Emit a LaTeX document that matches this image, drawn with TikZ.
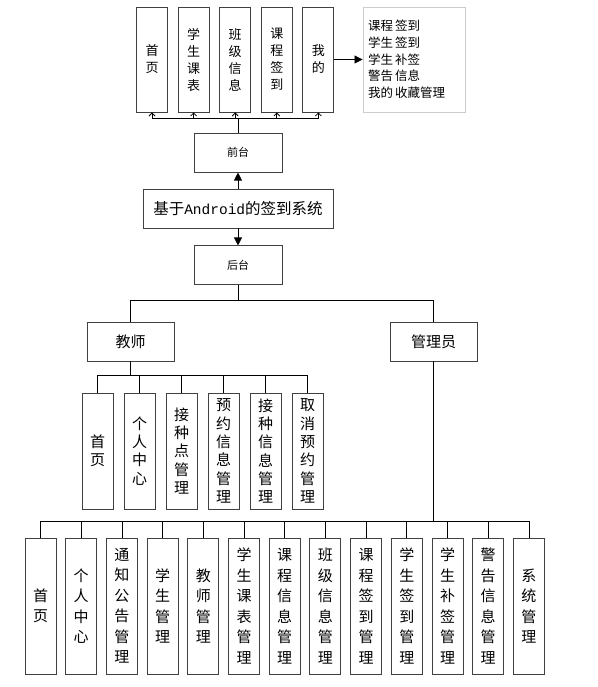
\documentclass[tikz,border=0pt]{standalone}
\usepackage{fontspec}
\newfontfamily\cjk{Noto Sans CJK SC}
\newfontfamily\latinmono{Liberation Mono}
\usetikzlibrary{arrows.meta}
\usetikzlibrary{positioning}
\usetikzlibrary{calc}

\begin{document}
\begin{tikzpicture}
  [x=1pt, y=-1pt,
   every node/.style = {draw=black!75, line width=0.9pt, fill=white, inner sep=0pt, align=center},
   topbox/.style   = {minimum width=31pt, minimum height=105pt, font=\cjk\fontsize{13}{17}\selectfont},
   stagebox/.style = {minimum width=88pt, minimum height=39pt, font=\cjk\fontsize{11}{13}\selectfont},
   rolebox/.style  = {minimum width=87pt, minimum height=39pt, font=\cjk\fontsize{15}{18}\selectfont},
   teachbox/.style = {minimum width=31pt, minimum height=116pt, font=\cjk\fontsize{15}{18.3}\selectfont},
   adminbox/.style = {minimum width=31pt, minimum height=136pt, font=\cjk\fontsize{15}{20.5}\selectfont},
   notebox/.style  = {draw=black!20, minimum width=102pt, minimum height=105pt, align=left,
                      text width=92pt, font=\cjk\fontsize{12.5}{16.7}\selectfont},
   link/.style     = {draw=black, line width=0.8pt},
   up/.style       = {link, -{Straight Barb[length=3pt,width=6pt]}},
   solid/.style    = {link, -{Triangle[length=8pt,width=8pt]}}]

  \useasboundingbox (0,0) rectangle (597,687);

  % system in the middle
  \node[minimum width=190pt, minimum height=39pt, font=\cjk\fontsize{15.5}{18}\selectfont]
    (sys) at (238,208.5) {基于{\latinmono\fontsize{14.5}{18}\selectfont Android}的签到系统};
  \node[stagebox] (front) [above=16pt of sys] {前台};
  \node[stagebox] (back) [below=17pt of sys] {后台};

  \draw[solid] (sys) -- (front);
  \draw[solid] (sys) -- (back);

  % front end pages
  \foreach \lbl [count=\i from 0] in {{首\\页},{学\\生\\课\\表},{班\\级\\信\\息},{课\\程\\签\\到},{我\\的}}
    \node[topbox] (t\i) at ({152+41.6*\i},59.5) {\lbl};

  \node[notebox] (note) at (414,59.5)
    {课程\,签到\\学生\,签到\\学生\,补签\\警告\,信息\\我的\,收藏管理};
  \draw[solid] (t4) -- (note);

  \coordinate (fbus) at ($(front.north)+(0,-14)$);
  \draw[link] (front.north) -- (fbus);
  \draw[link] (t0.south |- fbus) -- (t4.south |- fbus);
  \foreach \i in {0,...,4}
    \draw[up] (t\i.south |- fbus) -- (t\i.south);

  % back end roles
  \node[rolebox] (teacher) at (130.5,341.5) {教师};
  \node[rolebox] (admin) at (433.5,341.5) {管理员};

  \coordinate (bbus) at ($(back.south)+(0,15)$);
  \draw[link] (back.south) -- (bbus);
  \draw[link] (teacher.north) |- (bbus) -| (admin.north);

  % teacher pages
  \foreach \lbl [count=\i from 0] in {{首\\页},{个\\人\\中\\心},{接\\种\\点\\管\\理},
      {预\\约\\信\\息\\管\\理},{接\\种\\信\\息\\管\\理},{取\\消\\预\\约\\管\\理}}
    \node[teachbox] (p\i) at ({97.5+42*\i},451) {\lbl};

  \coordinate (tbus) at ($(teacher.south)+(0,14)$);
  \draw[link] (teacher.south) -- (tbus);
  \draw[link] (p0.north |- tbus) -- (p5.north |- tbus);
  \foreach \i in {0,...,5}
    \draw[link] (p\i.north |- tbus) -- (p\i.north);

  % admin pages
  \foreach \lbl [count=\i from 0] in {{首\\页},{个\\人\\中\\心},{通\\知\\公\\告\\管\\理},
      {学\\生\\管\\理},{教\\师\\管\\理},{学\\生\\课\\表\\管\\理},{课\\程\\信\\息\\管\\理},
      {班\\级\\信\\息\\管\\理},{课\\程\\签\\到\\管\\理},{学\\生\\签\\到\\管\\理},
      {学\\生\\补\\签\\管\\理},{警\\告\\信\\息\\管\\理},{系\\统\\管\\理}}
    \node[adminbox] (a\i) at ({40.5+40.7*\i},606) {\lbl};

  \coordinate (abus) at (admin.south |- 0,521);
  \draw[link] (admin.south) -- (abus);
  \draw[link] (a0.north |- abus) -- (a12.north |- abus);
  \foreach \i in {0,...,12}
    \draw[link] (a\i.north |- abus) -- (a\i.north);
\end{tikzpicture}
\end{document}
